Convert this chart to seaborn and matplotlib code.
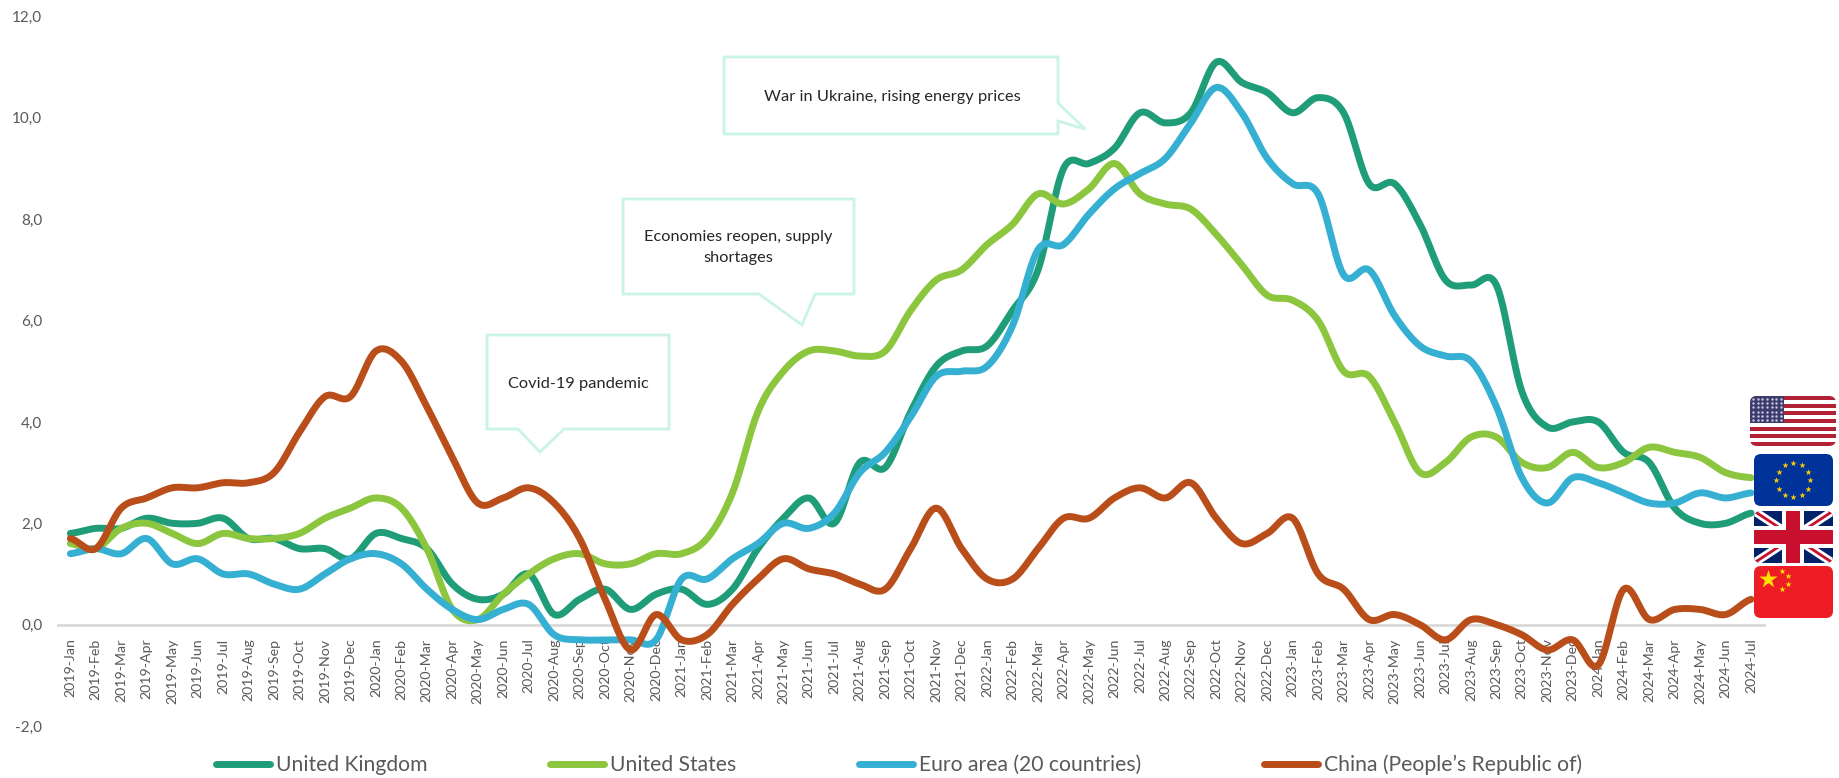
import numpy as np
import pandas as pd
import matplotlib
matplotlib.use("Agg")
import matplotlib.pyplot as plt
from matplotlib.patches import FancyBboxPatch, Polygon, Rectangle
import seaborn as sns

years_months = [f"{y}-{m}" for y in range(2019, 2025)
                for m in ["Jan", "Feb", "Mar", "Apr", "May", "Jun", "Jul", "Aug", "Sep", "Oct", "Nov", "Dec"]][:67]

uk = [1.8, 1.9, 1.9, 2.1, 2.0, 2.0, 2.1, 1.7, 1.7, 1.5, 1.5, 1.3,
      1.8, 1.7, 1.5, 0.8, 0.5, 0.6, 1.0, 0.2, 0.5, 0.7, 0.3, 0.6,
      0.7, 0.4, 0.7, 1.5, 2.1, 2.5, 2.0, 3.2, 3.1, 4.2, 5.1, 5.4,
      5.5, 6.2, 7.0, 9.0, 9.1, 9.4, 10.1, 9.9, 10.1, 11.1, 10.7, 10.5,
      10.1, 10.4, 10.1, 8.7, 8.7, 7.9, 6.8, 6.7, 6.7, 4.6, 3.9, 4.0,
      4.0, 3.4, 3.2, 2.3, 2.0, 2.0, 2.2]
us = [1.6, 1.5, 1.9, 2.0, 1.8, 1.6, 1.8, 1.7, 1.7, 1.8, 2.1, 2.3,
      2.5, 2.3, 1.5, 0.3, 0.1, 0.6, 1.0, 1.3, 1.4, 1.2, 1.2, 1.4,
      1.4, 1.7, 2.6, 4.2, 5.0, 5.4, 5.4, 5.3, 5.4, 6.2, 6.8, 7.0,
      7.5, 7.9, 8.5, 8.3, 8.6, 9.1, 8.5, 8.3, 8.2, 7.7, 7.1, 6.5,
      6.4, 6.0, 5.0, 4.9, 4.0, 3.0, 3.2, 3.7, 3.7, 3.2, 3.1, 3.4,
      3.1, 3.2, 3.5, 3.4, 3.3, 3.0, 2.9]
euro = [1.4, 1.5, 1.4, 1.7, 1.2, 1.3, 1.0, 1.0, 0.8, 0.7, 1.0, 1.3,
        1.4, 1.2, 0.7, 0.3, 0.1, 0.3, 0.4, -0.2, -0.3, -0.3, -0.3, -0.3,
        0.9, 0.9, 1.3, 1.6, 2.0, 1.9, 2.2, 3.0, 3.4, 4.1, 4.9, 5.0,
        5.1, 5.9, 7.4, 7.5, 8.1, 8.6, 8.9, 9.2, 9.9, 10.6, 10.1, 9.2,
        8.7, 8.5, 6.9, 7.0, 6.1, 5.5, 5.3, 5.2, 4.3, 2.9, 2.4, 2.9,
        2.8, 2.6, 2.4, 2.4, 2.6, 2.5, 2.6]
china = [1.7, 1.5, 2.3, 2.5, 2.7, 2.7, 2.8, 2.8, 3.0, 3.8, 4.5, 4.5,
         5.4, 5.2, 4.3, 3.3, 2.4, 2.5, 2.7, 2.4, 1.7, 0.5, -0.5, 0.2,
         -0.3, -0.2, 0.4, 0.9, 1.3, 1.1, 1.0, 0.8, 0.7, 1.5, 2.3, 1.5,
         0.9, 0.9, 1.5, 2.1, 2.1, 2.5, 2.7, 2.5, 2.8, 2.1, 1.6, 1.8,
         2.1, 1.0, 0.7, 0.1, 0.2, 0.0, -0.3, 0.1, 0.0, -0.2, -0.5, -0.3,
         -0.8, 0.7, 0.1, 0.3, 0.3, 0.2, 0.5]

series_names = ["United Kingdom", "United States", "Euro area (20 countries)", "China (People\u2019s Republic of)"]
series_values = [uk, us, euro, china]
series_colors = ["#1F9C78", "#8CC63F", "#36B0D2", "#B94E1A"]
y_ticks = [-2, 0, 2, 4, 6, 8, 10, 12]
y_labels = ["-2,0", "0,0", "2,0", "4,0", "6,0", "8,0", "10,0", "12,0"]

W, H = 1839, 778


def smooth(values, steps=12):
    """Render-time smoothing: the spreadsheet-style Catmull-Rom curve through the monthly values."""
    v = np.asarray(values, float)
    p = np.concatenate([[v[0]], v, [v[-1]]])
    xs, ys = [], []
    for i in range(len(v) - 1):
        p0, p1, p2, p3 = p[i], p[i + 1], p[i + 2], p[i + 3]
        for t in np.linspace(0, 1, steps, endpoint=False):
            ys.append(0.5 * (2 * p1 + (p2 - p0) * t + (2 * p0 - 5 * p1 + 4 * p2 - p3) * t ** 2
                             + (3 * p1 - p0 - 3 * p2 + p3) * t ** 3))
            xs.append(i + t)
    xs.append(len(v) - 1)
    ys.append(v[-1])
    return xs, ys


sns.set_theme(style="white")
plt.rcParams["font.family"] = ["Lato", "DejaVu Sans"]

frames = []
for name, vals in zip(series_names, series_values):
    xs, ys = smooth(vals)
    frames.append(pd.DataFrame({"month": xs, "value": ys, "series": name}))
df = pd.concat(frames, ignore_index=True)

fig = plt.figure(figsize=(W / 100, H / 100), dpi=100, facecolor="white")
ax = fig.add_axes([57.6 / W, 1 - 726 / H, (1763.8 - 57.6) / W, (726 - 16.5) / H])
sns.lineplot(data=df, x="month", y="value", hue="series", hue_order=series_names,
             palette=series_colors, linewidth=5, ax=ax, sort=False, estimator=None,
             solid_capstyle="round", solid_joinstyle="round", zorder=3)

ax.set_xlim(-0.5, 66.5)
ax.set_ylim(-2, 12)
ax.set_xlabel("")
ax.set_ylabel("")
for s in ["top", "right", "left"]:
    ax.spines[s].set_visible(False)
ax.spines["bottom"].set_position(("data", 0))
ax.spines["bottom"].set_color("#D9D9D9")
ax.spines["bottom"].set_linewidth(2)
ax.spines["bottom"].set_zorder(1)
ax.set_xticks(range(len(years_months)))
ax.set_xticklabels(years_months, rotation=90, fontsize=10.2, color="#595959")
ax.set_yticks(y_ticks)
ax.set_yticklabels(y_labels, fontsize=11, color="#595959")
ax.tick_params(axis="x", length=0, pad=10)
ax.tick_params(axis="y", length=0, pad=11)
ax.grid(False)
ax.patch.set_alpha(0)

handles, labels = ax.get_legend_handles_labels()
leg = ax.legend(handles, labels, loc="center", ncol=4, frameon=False,
                bbox_to_anchor=(899 / W, 1 - 765 / H), bbox_transform=fig.transFigure,
                fontsize=15.2, labelcolor="#595959", handlelength=2.55, handletextpad=0.3,
                columnspacing=5.8, borderaxespad=0, borderpad=0)

# overlay in pixel coordinates for callouts and flags
ov = fig.add_axes([0, 0, 1, 1], zorder=5)
ov.set_xlim(0, W)
ov.set_ylim(H, 0)
ov.axis("off")
ov.patch.set_alpha(0)

box_color = "#C9F4E7"
callouts = [
    [(724, 57), (1058, 57), (1058, 103), (1085, 129), (1058, 121), (1058, 134), (724, 134)],
    [(623, 199), (854, 199), (854, 294), (815, 294), (802, 325), (759, 294), (623, 294)],
    [(487, 335), (669, 335), (669, 429), (564, 429), (540, 452), (518, 429), (487, 429)],
]
for pts in callouts:
    ov.add_patch(Polygon(pts, closed=True, fill=False, ec=box_color, lw=2, joinstyle="miter"))
txt = dict(ha="center", va="center", fontsize=11.8, color="#262626")
ov.text(892, 97, "War in Ukraine, rising energy prices", **txt)
ov.text(738, 237, "Economies reopen, supply", **txt)
ov.text(738, 258, "shortages", **txt)
ov.text(578, 384, "Covid-19 pandemic", **txt)


def base(x0, y0, x1, y1, color):
    p = FancyBboxPatch((x0 + 6, y0 + 6), x1 - x0 - 12, y1 - y0 - 12, boxstyle="round,pad=6,rounding_size=7",
                       fc=color, ec="none", zorder=6)
    ov.add_patch(p)
    return p


# United States
x0, y0, x1, y1 = 1750, 396, 1836, 446
clip = base(x0, y0, x1, y1, "white")
sh = (y1 - y0) / 13
for i in range(0, 13, 2):
    r = Rectangle((x0, y0 + i * sh), x1 - x0, sh, fc="#B22234", ec="none", zorder=7)
    ov.add_patch(r)
    r.set_clip_path(clip)
r = Rectangle((x0, y0), 34, 7 * sh, fc="#3C3B6E", ec="none", zorder=8)
ov.add_patch(r)
r.set_clip_path(clip)
sx, sy = np.meshgrid(np.linspace(x0 + 3, x0 + 31, 7), np.linspace(y0 + 3, y0 + 24, 6))
ov.scatter(sx.ravel(), sy.ravel(), s=3, c="#C9C9DD", linewidths=0, zorder=9)

# European Union
x0, y0, x1, y1 = 1754, 454, 1833, 506
base(x0, y0, x1, y1, "#003399")
ang = np.arange(12) * np.pi / 6
ov.scatter((x0 + x1) / 2 + 17 * np.cos(ang), (y0 + y1) / 2 + 17 * np.sin(ang), s=22, marker="*",
           c="#FFCC00", linewidths=0, zorder=9)

# United Kingdom
x0, y0, x1, y1 = 1754, 511, 1833, 563
clip = base(x0, y0, x1, y1, "#012169")
for (a, b), lw, col in [(((x0, y0), (x1, y1)), 6, "white"), (((x0, y1), (x1, y0)), 6, "white"),
                        (((x0, y0), (x1, y1)), 2, "#C8102E"), (((x0, y1), (x1, y0)), 2, "#C8102E")]:
    ln, = ov.plot([a[0], b[0]], [a[1], b[1]], color=col, lw=lw, zorder=7, solid_capstyle="butt")
    ln.set_clip_path(clip)
cx, cy = (x0 + x1) / 2, (y0 + y1) / 2
for rect, col in [((cx - 11, y0, 22, y1 - y0), "white"), ((x0, cy - 11, x1 - x0, 22), "white"),
                  ((cx - 7, y0, 14, y1 - y0), "#C8102E"), ((x0, cy - 7, x1 - x0, 14), "#C8102E")]:
    r = Rectangle(rect[:2], rect[2], rect[3], fc=col, ec="none", zorder=8)
    ov.add_patch(r)
    r.set_clip_path(clip)

# China
x0, y0, x1, y1 = 1754, 566, 1833, 618
base(x0, y0, x1, y1, "#EE1C25")
ov.scatter([x0 + 14], [y0 + 13], s=190, marker="*", c="#FFE000", linewidths=0, zorder=9)
ov.scatter([x0 + 28, x0 + 34, x0 + 34, x0 + 28], [y0 + 5, y0 + 10, y0 + 18, y0 + 23], s=22, marker="*",
           c="#FFE000", linewidths=0, zorder=9)

fig.savefig("out.png", dpi=100, facecolor="white")
